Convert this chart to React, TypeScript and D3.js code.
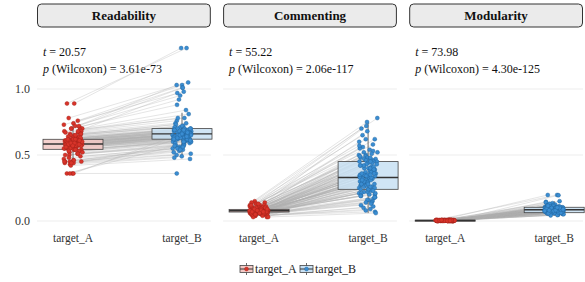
import * as d3 from 'd3';

const W = 585;
const H = 282;

const panels = ['Readability', 'Commenting', 'Modularity'];
const groups = ['target_A', 'target_B'];
const tValues = ['20.57', '55.22', '73.98'];
const pValues = ['3.61e-73', '2.06e-117', '4.30e-125'];
const yTicks = [0, 0.5, 1.0];

// box stats: [lower whisker, q1, median, q3, upper whisker]
const readBox = [[0.43, 0.543, 0.583, 0.619, 0.73], [0.5, 0.62, 0.66, 0.7, 0.82]];
const commBox = [[0.04, 0.068, 0.078, 0.088, 0.12], [0.06, 0.24, 0.33, 0.45, 0.75]];
const modBox = [[0.0, 0.002, 0.004, 0.006, 0.01], [0.04, 0.063, 0.085, 0.104, 0.15]];

// paired scores (hundredths) - index i in A is paired with index i in B
const readA = [
  89, 89, 78, 76, 74, 73, 72, 71, 70, 70, 69, 68, 68, 67, 66, 66, 65, 65, 64, 64,
  63, 63, 63, 62, 62, 62, 61, 61, 61, 61, 60, 60, 60, 60, 59, 59, 59, 59, 58, 58,
  58, 58, 58, 57, 57, 57, 57, 56, 56, 56, 56, 55, 55, 55, 55, 54, 54, 54, 53, 53,
  52, 52, 51, 51, 50, 50, 49, 48, 47, 46, 45, 45, 44, 44, 43, 42, 36, 36, 36, 36,
  62, 61, 60, 59, 58, 57, 56, 63, 64, 60, 59, 58, 57, 61, 62, 55, 54, 60, 58, 59,
  65, 66, 67, 63, 57, 56, 45, 46, 44, 45, 58, 60, 61, 59, 57, 62, 70, 72, 68, 53,
];
const readB = [
  131, 131, 105, 103, 101, 98, 95, 92, 88, 84, 81, 78, 76, 74, 73, 72, 71, 71, 70, 70,
  69, 69, 69, 68, 68, 68, 68, 67, 67, 67, 67, 66, 66, 66, 66, 66, 65, 65, 65, 65,
  65, 64, 64, 64, 64, 63, 63, 63, 63, 62, 62, 62, 62, 61, 61, 61, 60, 60, 60, 59,
  59, 58, 58, 57, 57, 56, 55, 55, 54, 53, 52, 51, 50, 49, 48, 47, 36, 60, 62, 64,
  68, 67, 66, 66, 65, 64, 63, 69, 70, 66, 65, 64, 63, 67, 68, 62, 61, 66, 64, 65,
  72, 74, 78, 70, 63, 62, 55, 56, 54, 57, 65, 67, 68, 66, 64, 69, 103, 101, 97, 60,
];
const commA = [
  15, 14, 14, 13, 13, 12, 12, 12, 11, 11, 11, 11, 10, 10, 10, 10, 10, 9, 9, 9,
  9, 9, 9, 9, 8, 8, 8, 8, 8, 8, 8, 8, 8, 8, 8, 8, 7, 7, 7, 7,
  7, 7, 7, 7, 7, 7, 7, 7, 7, 7, 7, 6, 6, 6, 6, 6, 6, 6, 6, 6,
  6, 6, 5, 5, 5, 5, 5, 5, 5, 5, 4, 4, 4, 4, 4, 3, 3, 3, 8, 7,
  8, 7, 9, 6, 8, 7, 10, 5, 9, 8, 7, 6, 11, 8, 9, 7, 6, 8, 10, 7,
  9, 8, 6, 7, 12, 5, 8, 9, 7, 6, 10, 8, 7, 9, 6, 8, 13, 7, 5, 9,
];
const commB = [
  78, 75, 72, 70, 68, 65, 62, 60, 58, 56, 55, 54, 53, 52, 51, 50, 50, 49, 48, 48,
  47, 47, 46, 46, 45, 45, 44, 43, 42, 41, 40, 40, 39, 38, 37, 36, 35, 35, 34, 34,
  33, 33, 32, 32, 31, 30, 30, 29, 28, 28, 27, 26, 26, 25, 25, 24, 24, 23, 22, 21,
  21, 20, 19, 18, 17, 16, 15, 14, 13, 12, 11, 10, 9, 8, 7, 6, 45, 38, 29, 33,
  35, 28, 42, 22, 38, 31, 47, 19, 40, 33, 27, 24, 52, 36, 44, 30, 21, 37, 49, 26,
  41, 34, 18, 29, 57, 16, 39, 43, 32, 23, 48, 36, 28, 45, 20, 35, 62, 31, 14, 42,
];
// thousandths
const modA = [
  9, 8, 3, 5, 2, 6, 4, 7, 1, 3, 5, 0, 2, 8, 4, 6, 3, 1, 5, 7,
  2, 4, 6, 0, 3, 5, 8, 1, 2, 4, 6, 3, 5, 7, 2, 0, 4, 1, 3, 6,
  5, 2, 8, 4, 3, 1, 6, 0, 5, 2, 4, 7, 3, 1, 5, 2, 6, 4, 0, 3,
  8, 2, 5, 1, 4, 6, 3, 7, 2, 0, 5, 3, 1, 4, 6, 2, 9, 3, 5, 4,
  3, 5, 2, 6, 4, 1, 7, 3, 5, 2, 4, 6, 0, 3, 8, 5, 2, 4, 6, 1,
  3, 5, 7, 2, 4, 0, 6, 3, 5, 1, 4, 2, 8, 3, 6, 5, 1, 4, 7, 2,
];
const modB = [
  197, 197, 195, 150, 145, 140, 135, 130, 125, 120, 118, 115, 112, 110, 108, 106, 105, 104, 103, 102,
  101, 100, 99, 98, 97, 96, 95, 94, 93, 92, 91, 90, 89, 88, 88, 87, 87, 86, 86, 85,
  85, 84, 84, 83, 83, 82, 82, 81, 80, 79, 78, 77, 76, 75, 74, 73, 72, 71, 70, 69,
  68, 67, 66, 65, 64, 63, 62, 61, 60, 59, 58, 57, 56, 55, 53, 51, 49, 47, 45, 42,
  85, 92, 78, 101, 88, 70, 95, 83, 110, 76, 90, 86, 65, 98, 80, 104, 73, 89, 94, 68,
  87, 100, 79, 91, 62, 84, 97, 75, 108, 82, 93, 71, 115, 86, 99, 77, 58, 88, 102, 81,
];

const panelData = [
  { a: readA.map((v) => v / 100), b: readB.map((v) => v / 100), box: readBox },
  { a: commA.map((v) => v / 100), b: commB.map((v) => v / 100), box: commBox },
  { a: modA.map((v) => v / 1000), b: modB.map((v) => v / 1000), box: modBox },
];

const fills = ['#f3c9c5', '#c8e0f3'];
const pointFill = ['#d8342a', '#3a8dd2'];
const pointStroke = ['#9e2219', '#1f5f98'];
const FONT = 'Liberation Serif';

// deterministic horizontal jitter (position only)
const jitter = (i: number) => {
  const h = Math.sin(i * 12.9898 + 78.233) * 43758.5453;
  return ((h - Math.floor(h)) * 2 - 1) * 9.5;
};

export default function App() {
  const panelX = d3.scaleBand().domain(panels).range([37, 583]).paddingInner(0.066);
  const y = d3.scaleLinear().domain([0, 1]).range([221, 89]);
  const boxW = 60;

  return (
    <svg
      width={W}
      height={H}
      fontFamily={FONT}
      style={{ position: 'absolute', left: 0, top: 0, background: '#fff' }}
    >
      {/* y axis labels */}
      {yTicks.map((t) => (
        <text key={t} x={30} y={y(t) + 4} textAnchor="end" fontSize={12} fill="#333" fontFamily={FONT}>
          {t.toFixed(1)}
        </text>
      ))}

      {panels.map((name, pi) => {
        const left = panelX(name)!;
        const bw = panelX.bandwidth();
        const x = d3.scalePoint().domain(groups).range([left + 36, left + 145]);
        const d = panelData[pi];
        const series = [d.a, d.b];
        const jx = (gi: number, i: number) => x(groups[gi])! + jitter(i * 2 + gi + pi * 1000);
        return (
          <g key={name}>
            {/* strip */}
            <rect x={left + 0.5} y={4} width={bw - 1} height={23} rx={4} fill="#ebebeb" stroke="#333" strokeWidth={1} />
            <text x={left + bw / 2} y={20} textAnchor="middle" fontSize={13} fontWeight="bold" fill="#111" fontFamily={FONT}>
              {name}
            </text>

            {/* grid */}
            {yTicks.map((t) => (
              <line key={t} x1={left} x2={left + bw} y1={y(t)} y2={y(t)} stroke="#ebebeb" strokeWidth={0.9} />
            ))}

            {/* annotation */}
            <text x={left + 6} y={56} fontSize={12} fill="#111" fontFamily={FONT}>
              <tspan fontStyle="italic">t</tspan>
              {` = ${tValues[pi]}`}
            </text>
            <text x={left + 6} y={73} fontSize={12} fill="#111" fontFamily={FONT}>
              <tspan fontStyle="italic">p</tspan>
              {` (Wilcoxon) = ${pValues[pi]}`}
            </text>

            {/* paired lines */}
            {d.a.map((va, i) => (
              <line
                key={i}
                x1={jx(0, i)}
                y1={y(va)}
                x2={jx(1, i)}
                y2={y(d.b[i])}
                stroke="#b0b0b0"
                strokeOpacity={0.65}
                strokeWidth={0.5}
              />
            ))}

            {/* boxes */}
            {groups.map((g, gi) => {
              const [lo, q1, med, q3, hi] = d.box[gi];
              const cx = x(g)!;
              return (
                <g key={g}>
                  <line x1={cx} x2={cx} y1={y(lo)} y2={y(q1)} stroke="#444" strokeWidth={0.8} />
                  <line x1={cx} x2={cx} y1={y(q3)} y2={y(hi)} stroke="#444" strokeWidth={0.8} />
                  <rect
                    x={cx - boxW / 2}
                    y={y(q3)}
                    width={boxW}
                    height={Math.max(y(q1) - y(q3), 1)}
                    fill={fills[gi]}
                    fillOpacity={0.85}
                    stroke="#444"
                    strokeWidth={0.8}
                  />
                  <line x1={cx - boxW / 2} x2={cx + boxW / 2} y1={y(med)} y2={y(med)} stroke="#333" strokeWidth={1.4} />
                </g>
              );
            })}

            {/* points */}
            {series.map((vals, gi) =>
              vals.map((v, i) => (
                <circle
                  key={`${gi}-${i}`}
                  cx={jx(gi, i)}
                  cy={y(v)}
                  r={2}
                  fill={pointFill[gi]}
                  stroke={pointStroke[gi]}
                  strokeWidth={0.4}
                />
              )),
            )}

            {/* x labels */}
            {groups.map((g) => (
              <text key={g} x={x(g)!} y={242} textAnchor="middle" fontSize={11.5} fill="#333" fontFamily={FONT}>
                {g}
              </text>
            ))}
          </g>
        );
      })}

      {/* legend */}
      {groups.map((g, gi) => {
        const kx = gi === 0 ? 240 : 300;
        return (
          <g key={g}>
            <line x1={kx + 6.5} x2={kx + 6.5} y1={263} y2={275} stroke="#444" strokeWidth={0.8} />
            <rect x={kx} y={265.5} width={13} height={7} fill={fills[gi]} stroke="#444" strokeWidth={0.8} />
            <line x1={kx} x2={kx + 13} y1={269} y2={269} stroke="#333" strokeWidth={1} />
            <circle cx={kx + 6.5} cy={269} r={2} fill={pointFill[gi]} stroke={pointStroke[gi]} strokeWidth={0.4} />
            <text x={kx + 15} y={273} fontSize={12} fill="#222" fontFamily={FONT}>
              {g}
            </text>
          </g>
        );
      })}
    </svg>
  );
}
